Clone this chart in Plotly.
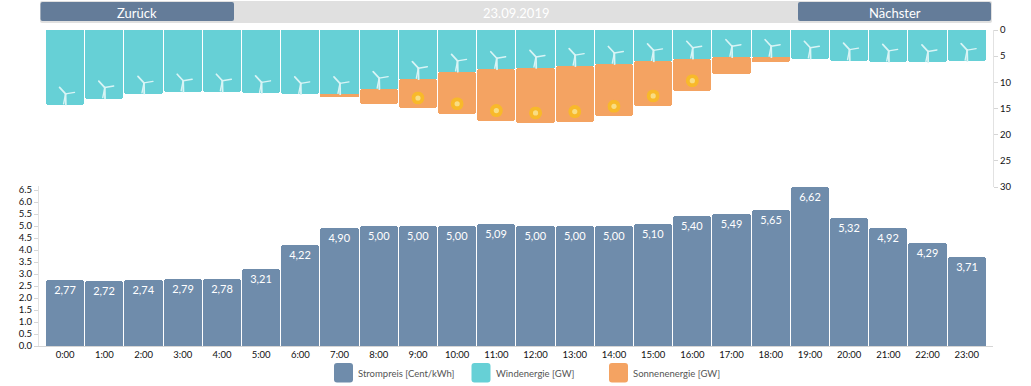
import base64
import plotly.graph_objects as go

hours = ["0:00","1:00","2:00","3:00","4:00","5:00","6:00","7:00","8:00","9:00","10:00","11:00",
         "12:00","13:00","14:00","15:00","16:00","17:00","18:00","19:00","20:00","21:00","22:00","23:00"]
price = [2.77,2.72,2.74,2.79,2.78,3.21,4.22,4.90,5.00,5.00,5.00,5.09,5.00,5.00,5.00,5.10,5.40,5.49,5.65,6.62,5.32,4.92,4.29,3.71]
wind = [14.3,13.1,12.2,11.8,11.8,12.1,12.3,12.3,11.3,9.4,8.0,7.5,7.25,6.9,6.5,6.0,5.5,5.2,5.2,5.5,5.85,6.1,6.2,5.95]
solar = [0,0,0,0,0,0,0,0.5,2.8,5.5,8.0,9.8,10.5,10.6,10.0,8.5,6.1,3.2,0.9,0,0,0,0,0]
price_ticks = [0,0.5,1,1.5,2,2.5,3,3.5,4,4.5,5,5.5,6,6.5]
energy_ticks = [0,5,10,15,20,25,30]
date_label = "23.09.2019"
back_label = "Zurück"
next_label = "Nächster"
legend_items = ["Strompreis [Cent/kWh]", "Windenergie [GW]", "Sonnenenergie [GW]"]

W, H = 1031, 386
BLUE, TEAL, ORANGE = "#6f8cab", "#66d0d6", "#f4a362"
FONT = "Lato"
xs = list(range(24))
X_RANGE = [-0.668, 23.67]
TOP_PX = (30, 187)
LOW_PX = (186, 346)

def svg_uri(svg):
    return "data:image/svg+xml;base64," + base64.b64encode(svg.encode()).decode()

turbine = svg_uri('<svg xmlns="http://www.w3.org/2000/svg" viewBox="0 0 40 40">'
    '<g stroke="#d9f4f5" stroke-linecap="round" fill="none">'
    '<path d="M20 16 L20.5 38" stroke-width="3.6"/>'
    '<path d="M20 16 L8 3" stroke-width="3.4"/>'
    '<path d="M20 16 L38 13" stroke-width="2.8"/>'
    '<path d="M20 16 L16 36" stroke-width="2.8"/></g></svg>')
sun = svg_uri('<svg xmlns="http://www.w3.org/2000/svg" viewBox="0 0 40 40">'
    '<circle cx="20" cy="20" r="20" fill="#f8b92a"/><circle cx="20" cy="20" r="8" fill="#f9dd83"/></svg>')

fig = go.Figure()
common = dict(width=0.975, marker_cornerradius=3, marker_line_width=0, showlegend=False, hoverinfo="skip")
fig.add_trace(go.Bar(x=xs, y=wind, marker_color=TEAL, xaxis="x2", yaxis="y2", **common))
fig.add_trace(go.Bar(x=xs, y=solar, base=wind, marker_color=ORANGE, xaxis="x2", yaxis="y2", **common))
fig.add_trace(go.Bar(x=xs, y=price, marker_color=BLUE, xaxis="x", yaxis="y",
                     text=[f"{v:.2f}".replace(".", ",") for v in price],
                     textposition="inside", insidetextanchor="end", textangle=0,
                     constraintext="none", cliponaxis=False,
                     textfont=dict(family=FONT, size=11, color="white"), **common))

unit = 30 / (TOP_PX[1] - TOP_PX[0])  # energy units per pixel
images = []
for i, (w, s) in enumerate(zip(wind, solar)):
    images.append(dict(source=turbine, xref="x2", yref="y2", x=i + 0.01, y=w - 9 * unit,
                       sizex=20 / 39.2, sizey=20 * unit, xanchor="center", yanchor="middle",
                       sizing="contain", layer="above", opacity=1))
    if s >= 5:
        images.append(dict(source=sun, xref="x2", yref="y2", x=i, y=w + s - 10 * unit,
                           sizex=13 / 39.2, sizey=13 * unit, xanchor="center", yanchor="middle",
                           sizing="contain", layer="above"))

def px(x): return x / W
def py(y): return 1 - y / H
def rrect(x0, y0, x1, y1, r, color):
    path = (f"M{px(x0+r)} {py(y0)} L{px(x1-r)} {py(y0)} Q{px(x1)} {py(y0)} {px(x1)} {py(y0+r)} "
            f"L{px(x1)} {py(y1-r)} Q{px(x1)} {py(y1)} {px(x1-r)} {py(y1)} "
            f"L{px(x0+r)} {py(y1)} Q{px(x0)} {py(y1)} {px(x0)} {py(y1-r)} "
            f"L{px(x0)} {py(y0+r)} Q{px(x0)} {py(y0)} {px(x0+r)} {py(y0)} Z")
    return dict(type="path", xref="paper", yref="paper", path=path, fillcolor=color,
                line=dict(width=0), layer="above")

shapes = [rrect(40, 1, 992, 23, 2, "#e0e0e0"),
          rrect(40.5, 2, 234, 21, 2, "#647c99"),
          rrect(798, 2, 991, 21, 2, "#647c99")]
legend_x = [(334, 355.5), (471.5, 494), (609, 631)]
for (lx, _), c in zip(legend_x, [BLUE, TEAL, ORANGE]):
    shapes.append(rrect(lx, 363, lx + 19, 382.5, 3, c))

def label(text, x, y, size, color, anchor="center"):
    return dict(text=text, x=px(x), y=py(y), xref="paper", yref="paper", showarrow=False,
                xanchor=anchor, yanchor="middle", font=dict(family=FONT, size=size, color=color))

annotations = [label(back_label, 137, 12.5, 13, "white"),
               label(date_label, 516, 12.5, 13, "white"),
               label(next_label, 895, 12.5, 13, "white")]
for (_, tx), t in zip(legend_x, legend_items):
    annotations.append(label(t, tx, 373, 9.5, "#555555", "left"))

axis_font = dict(family=FONT, size=9.5, color="#111111")
fig.update_layout(
    width=W, height=H, autosize=False,
    margin=dict(l=0, r=0, t=0, b=0, autoexpand=False),
    paper_bgcolor="white", plot_bgcolor="white",
    barmode="overlay", bargap=0,
    xaxis=dict(domain=[px(39), px(993)], range=X_RANGE, tickmode="array", tickvals=xs, ticktext=hours,
               tickfont=axis_font, ticks="", showgrid=False, zeroline=False, fixedrange=True,
               showline=True, linecolor="#d5d5d5", linewidth=1),
    yaxis=dict(domain=[py(LOW_PX[1]), py(LOW_PX[0])], range=[0, (LOW_PX[1] - LOW_PX[0]) / 24],
               tickmode="array", tickvals=price_ticks, ticktext=[f"{t:.1f}" for t in price_ticks],
               tickfont=axis_font, ticks="outside", ticklen=4, tickcolor="#d5d5d5", showgrid=False,
               zeroline=False, showline=True, linecolor="#e2e2e2", linewidth=1),
    xaxis2=dict(domain=[px(39), px(993)], range=X_RANGE, visible=False, anchor="y2"),
    yaxis2=dict(domain=[py(TOP_PX[1]), py(TOP_PX[0])], range=[30, 0], side="right", anchor="x2",
                tickmode="array", tickvals=energy_ticks, tickfont=axis_font, ticks="outside", ticklen=4,
                tickcolor="#d5d5d5", showgrid=False, zeroline=False, showline=True,
                linecolor="#e2e2e2", linewidth=1),
    images=images, shapes=shapes, annotations=annotations,
)
fig.write_html("out.html", config=dict(displayModeBar=False),
               post_script="document.body.style.margin='0';document.body.style.overflow='hidden';")
